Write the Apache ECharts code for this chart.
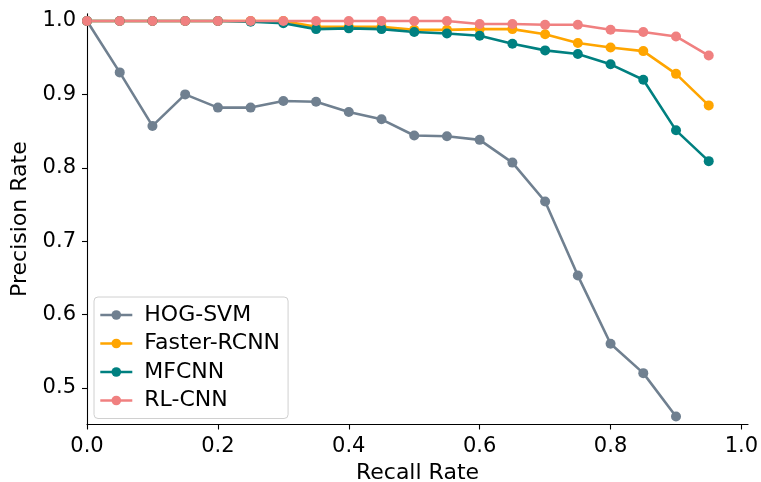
<!DOCTYPE html>
<html>
<head>
<meta charset="utf-8">
<script src="https://cdn.jsdelivr.net/npm/echarts@6/dist/echarts.min.js"></script>
<style>
html,body{margin:0;padding:0;background:#fff;}
#chart{width:761px;height:482px;}
</style>
</head>
<body>
<div id="chart"></div>
<script>
var recall = [0.00, 0.05, 0.10, 0.15, 0.20, 0.25, 0.30, 0.35, 0.40, 0.45, 0.50, 0.55, 0.60, 0.65, 0.70, 0.75, 0.80, 0.85, 0.90, 0.95];
var hogSvm = [1.000, 0.930, 0.857, 0.900, 0.882, 0.882, 0.891, 0.890, 0.876, 0.866, 0.844, 0.843, 0.838, 0.807, 0.754, 0.653, 0.560, 0.520, 0.461];
var fasterRcnn = [1.000, 1.000, 1.000, 1.000, 1.000, 1.000, 1.000, 0.992, 0.992, 0.992, 0.988, 0.988, 0.989, 0.989, 0.982, 0.970, 0.964, 0.959, 0.928, 0.885];
var mfcnn = [1.000, 1.000, 1.000, 1.000, 1.000, 0.999, 0.997, 0.989, 0.990, 0.989, 0.985, 0.983, 0.980, 0.969, 0.960, 0.955, 0.941, 0.920, 0.851, 0.809];
var rlCnn = [1.000, 1.000, 1.000, 1.000, 1.000, 1.000, 1.000, 1.000, 1.000, 1.000, 1.000, 1.000, 0.996, 0.996, 0.995, 0.995, 0.988, 0.985, 0.979, 0.953];
var seriesNames = ['HOG-SVM', 'Faster-RCNN', 'MFCNN', 'RL-CNN'];
var xTicks = [0.0, 0.2, 0.4, 0.6, 0.8, 1.0];
var yTicks = [0.5, 0.6, 0.7, 0.8, 0.9, 1.0];

var colors = ['#708090', '#FFA500', '#008080', '#F08080'];
var allData = [hogSvm, fasterRcnn, mfcnn, rlCnn];
var font = 'DejaVu Sans';

function pairs(ys) {
  return ys.map(function (v, i) { return [recall[i], v]; });
}

var series = seriesNames.map(function (name, k) {
  return {
    name: name,
    type: 'line',
    data: pairs(allData[k]),
    symbol: 'circle',
    symbolSize: 10,
    showSymbol: true,
    animation: false,
    lineStyle: { color: colors[k], width: 2.6 },
    itemStyle: { color: colors[k] },
    emphasis: { disabled: true }
  };
});

var chart = echarts.init(document.getElementById('chart'), null, { renderer: 'canvas' });
chart.setOption({
  animation: false,
  backgroundColor: '#ffffff',
  grid: { left: 87, right: 13, top: 13.7, bottom: 57.5, containLabel: false, outerBoundsMode: 'none' },
  legend: {
    orient: 'vertical',
    left: 94,
    top: 297,
    data: seriesNames,
    backgroundColor: 'rgba(255,255,255,0.8)',
    borderColor: '#d0d0d0',
    borderWidth: 1,
    borderRadius: 4,
    padding: [7, 8, 7, 5],
    itemWidth: 32,
    itemHeight: 12,
    itemGap: 6.5,
    lineStyle: { width: 2.6 },
    textStyle: { fontFamily: font, fontSize: 22, color: '#000', padding: [0, 0, 0, 7] }
  },
  xAxis: {
    type: 'value',
    min: 0,
    max: 1.01,
    name: 'Recall Rate',
    nameLocation: 'middle',
    nameGap: 35,
    nameTextStyle: { fontFamily: font, fontSize: 22, color: '#000' },
    axisLine: { show: true, lineStyle: { color: '#000', width: 1.1 } },
    axisTick: { show: true, inside: false, length: 5, customValues: xTicks, lineStyle: { color: '#000', width: 1.1 } },
    axisLabel: { customValues: xTicks, margin: 12, fontFamily: font, fontSize: 21, color: '#000',
      formatter: function (v) { return v.toFixed(1); } },
    splitLine: { show: false }
  },
  yAxis: {
    type: 'value',
    min: 0.45,
    max: 1.01,
    name: 'Precision Rate',
    nameLocation: 'middle',
    nameGap: 52,
    nameTextStyle: { fontFamily: font, fontSize: 22, color: '#000' },
    axisLine: { show: true, lineStyle: { color: '#000', width: 1.1 } },
    axisTick: { show: true, inside: false, length: 5, customValues: yTicks, lineStyle: { color: '#000', width: 1.1 } },
    axisLabel: { customValues: yTicks, margin: 11, fontFamily: font, fontSize: 21, color: '#000',
      formatter: function (v) { return v.toFixed(1); } },
    splitLine: { show: false }
  },
  series: series
});
</script>
</body>
</html>
